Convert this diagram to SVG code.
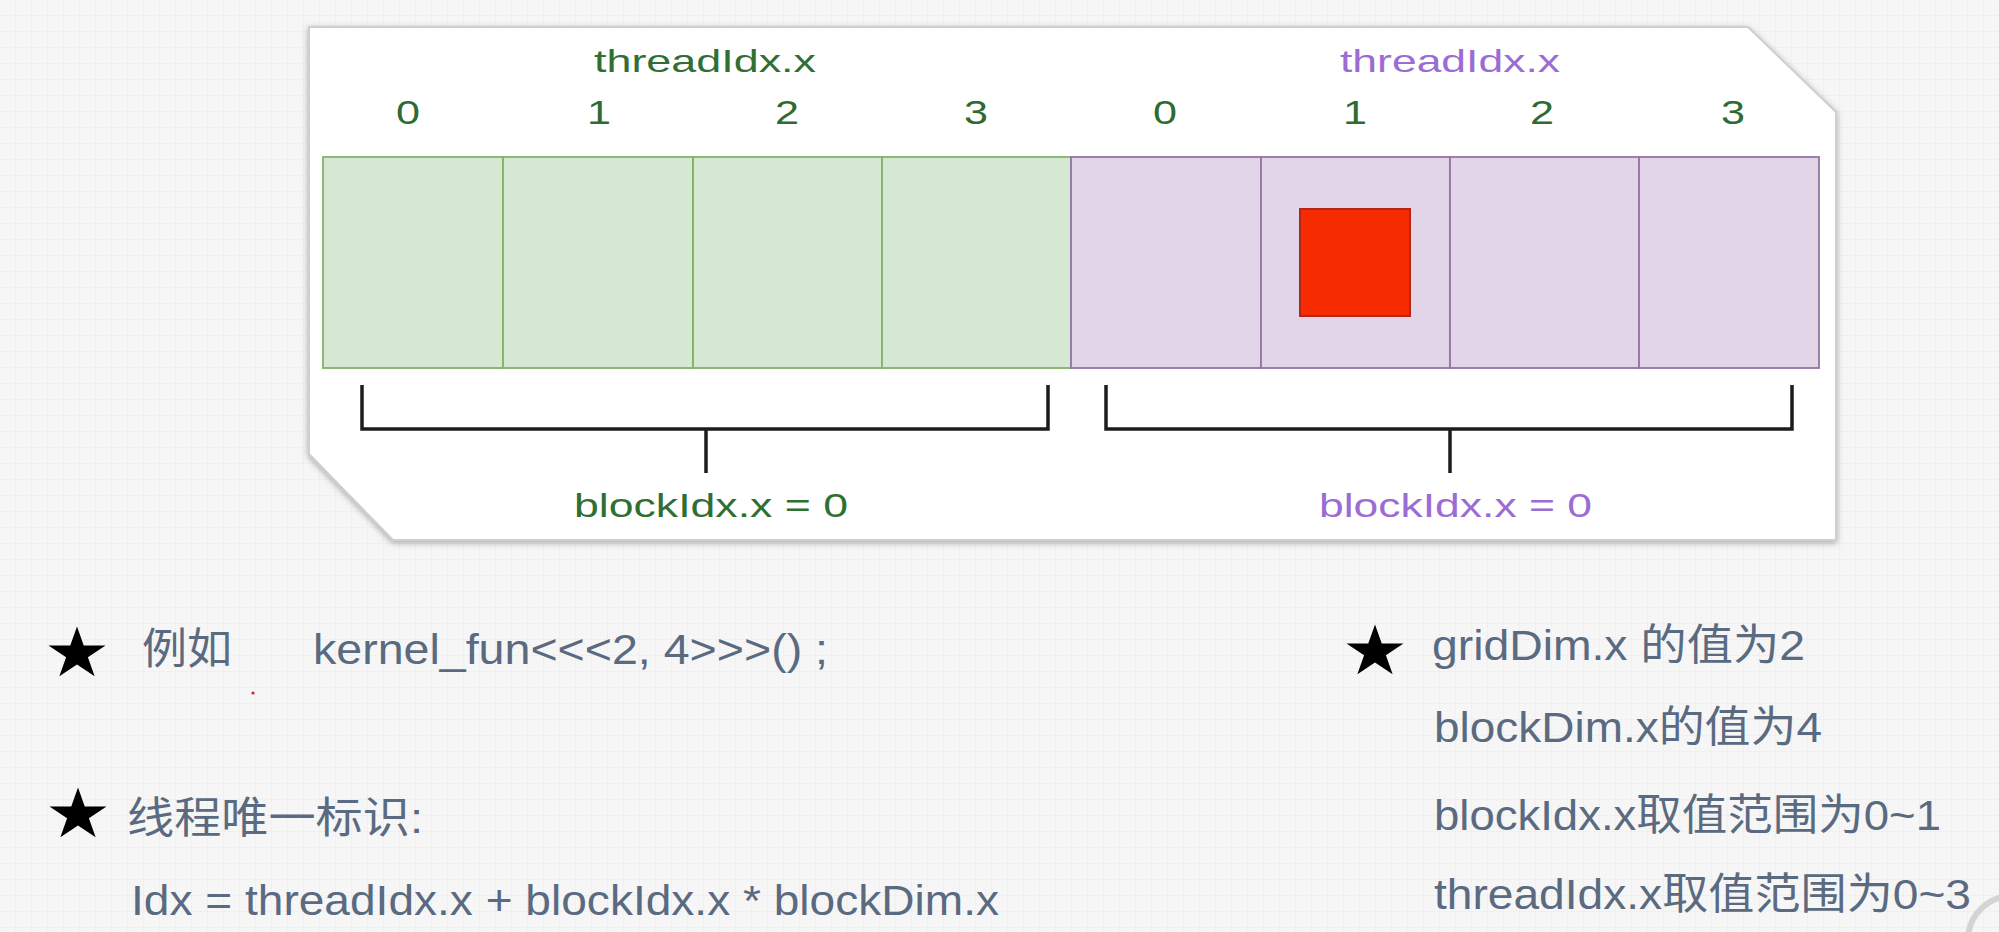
<svg xmlns="http://www.w3.org/2000/svg" xmlns:xlink="http://www.w3.org/1999/xlink" width="1999" height="932" viewBox="0 0 1999 932">
  <style>
    .t { font-family: "Liberation Sans", "Noto Sans CJK SC", sans-serif; }
    .g { fill: #2f6f33; }
    .p { fill: #9b6cd3; }
    .n { fill: #2e6b32; font-size: 33px; text-anchor: middle; }
    .lab { font-size: 32px; }
    .blab { font-size: 33px; }
    .note { font-size: 43px; fill: #5a6a80; }
    .gc { fill: #d5e8d4; stroke: #82b366; stroke-width: 1.8; }
    .pc { fill: #e1d5e7; stroke: #9673a6; stroke-width: 1.8; }
    .br { fill: none; stroke: #1c1c1c; stroke-width: 3.5; }
    .star { fill: #000; }
  </style>
  <defs>
    <pattern id="bggrid" width="16" height="16" patternUnits="userSpaceOnUse">
      <rect width="16" height="16" fill="#f6f6f6"/>
      <path d="M16 0 V16 M0 16 H16" stroke="#ebebeb" stroke-width="1" fill="none"/>
    </pattern>
    <filter id="shadow" x="-5%" y="-10%" width="110%" height="125%">
      <feDropShadow dx="0" dy="2" stdDeviation="3" flood-color="#777" flood-opacity="0.6"/>
    </filter>
    <polygon id="star" points="0,-1 0.2245,-0.309 0.951,-0.309 0.3633,0.118 0.588,0.809 0,0.382 -0.588,0.809 -0.3633,0.118 -0.951,-0.309 -0.2245,-0.309"/>
  </defs>

  <rect x="0" y="0" width="1999" height="932" fill="url(#bggrid)"/>

  <g id="panel">
    <polygon points="309,27 1748,27 1836,112 1836,540 393,540 309,454" fill="#ffffff" stroke="#cfcfcf" stroke-width="2" filter="url(#shadow)"/>
  </g>

  <g id="block0">
    <rect class="gc" x="323" y="157" width="180" height="211"/>
    <rect class="gc" x="503" y="157" width="190" height="211"/>
    <rect class="gc" x="693" y="157" width="189" height="211"/>
    <rect class="gc" x="882" y="157" width="189" height="211"/>
  </g>
  <g id="block1">
    <rect class="pc" x="1071" y="157" width="190" height="211"/>
    <rect class="pc" x="1261" y="157" width="189" height="211"/>
    <rect class="pc" x="1450" y="157" width="189" height="211"/>
    <rect class="pc" x="1639" y="157" width="180" height="211"/>
  </g>
  <g id="current-thread">
    <rect x="1300" y="209" width="110" height="107" fill="#f62b00" stroke="#b3261e" stroke-width="2"/>
  </g>

  <g id="thread-labels" class="t">
    <text class="lab g" x="594" y="72" textLength="222" lengthAdjust="spacingAndGlyphs">threadIdx.x</text>
    <text class="lab p" x="1340" y="72" textLength="220" lengthAdjust="spacingAndGlyphs">threadIdx.x</text>
    <text class="n" x="408" y="124" textLength="24" lengthAdjust="spacingAndGlyphs">0</text>
    <text class="n" x="599" y="124" textLength="24" lengthAdjust="spacingAndGlyphs">1</text>
    <text class="n" x="787" y="124" textLength="24" lengthAdjust="spacingAndGlyphs">2</text>
    <text class="n" x="976" y="124" textLength="24" lengthAdjust="spacingAndGlyphs">3</text>
    <text class="n" x="1165" y="124" textLength="24" lengthAdjust="spacingAndGlyphs">0</text>
    <text class="n" x="1355" y="124" textLength="24" lengthAdjust="spacingAndGlyphs">1</text>
    <text class="n" x="1542" y="124" textLength="24" lengthAdjust="spacingAndGlyphs">2</text>
    <text class="n" x="1733" y="124" textLength="24" lengthAdjust="spacingAndGlyphs">3</text>
  </g>

  <g id="connectors">
    <path class="br" d="M362,385 V429 H1048 V385"/>
    <path class="br" d="M706,429 V473"/>
    <path class="br" d="M1106,385 V429 H1792 V385"/>
    <path class="br" d="M1450,429 V473"/>
  </g>

  <g id="block-labels" class="t">
    <text class="blab g" x="574" y="517" textLength="274" lengthAdjust="spacingAndGlyphs">blockIdx.x = 0</text>
    <text class="blab p" x="1319" y="517" textLength="273" lengthAdjust="spacingAndGlyphs">blockIdx.x = 0</text>
  </g>

  <g id="note-example">
    <use href="#star" class="star" transform="translate(77,654) scale(30,27.5)"/>
    <text class="t note" x="142" y="664" textLength="90" lengthAdjust="spacingAndGlyphs">例如</text>
    <text class="t note" x="313" y="664" textLength="515" lengthAdjust="spacingAndGlyphs">kernel_fun&lt;&lt;&lt;2, 4&gt;&gt;&gt;() ;</text>
    <circle cx="253" cy="693" r="1.6" fill="#c03030"/>
  </g>

  <g id="note-index">
    <use href="#star" class="star" transform="translate(78,815) scale(30,27.5)"/>
    <text class="t note" x="127" y="833" textLength="296" lengthAdjust="spacingAndGlyphs">线程唯一标识:</text>
    <text class="t note" x="131" y="915" textLength="868" lengthAdjust="spacingAndGlyphs">Idx = threadIdx.x + blockIdx.x * blockDim.x</text>
  </g>

  <g id="note-dims">
    <use href="#star" class="star" transform="translate(1375,652) scale(30,27.5)"/>
    <text class="t note" x="1432" y="660" textLength="373" lengthAdjust="spacingAndGlyphs">gridDim.x 的值为2</text>
    <text class="t note" x="1434" y="742" textLength="388" lengthAdjust="spacingAndGlyphs">blockDim.x的值为4</text>
    <text class="t note" x="1434" y="830" textLength="507" lengthAdjust="spacingAndGlyphs">blockIdx.x取值范围为0~1</text>
    <text class="t note" x="1434" y="909" textLength="537" lengthAdjust="spacingAndGlyphs">threadIdx.x取值范围为0~3</text>
  </g>

  <g id="corner-artifact">
    <circle cx="2012" cy="940" r="44" fill="none" stroke="#d4d4d4" stroke-width="6"/>
  </g>
</svg>
